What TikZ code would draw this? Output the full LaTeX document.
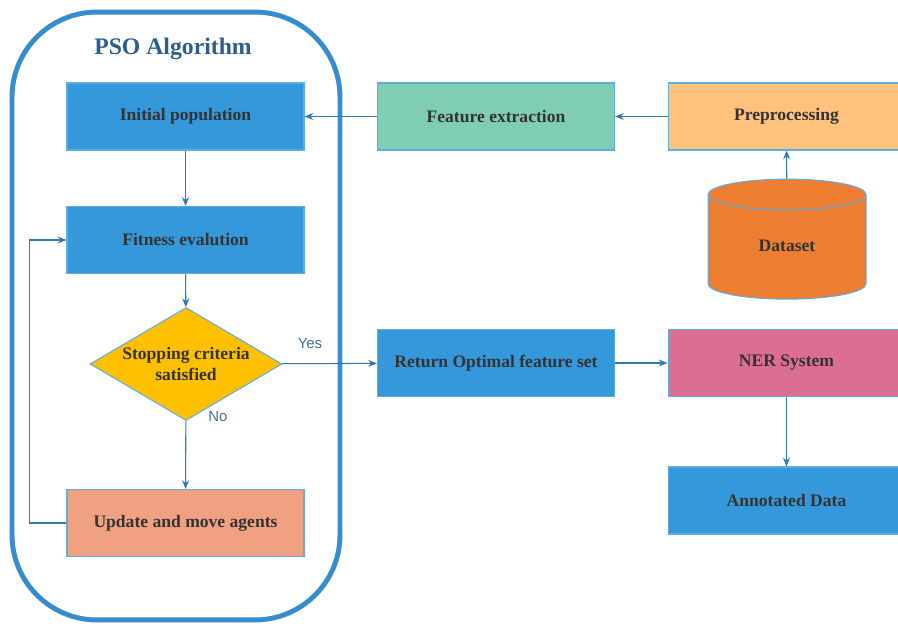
\documentclass[tikz,border=0pt]{standalone}
\usepackage{fontspec}
\setmainfont{Liberation Serif}
\newfontfamily\labelfont{Liberation Sans}
\usetikzlibrary{arrows.meta, positioning, shapes.geometric, calc}
\definecolor{boxblue}{RGB}{52,152,219}
\definecolor{featgreen}{RGB}{127,205,181}
\definecolor{prepeach}{RGB}{255,195,125}
\definecolor{dataorange}{RGB}{237,125,49}
\definecolor{decyellow}{RGB}{255,192,0}
\definecolor{updsalmon}{RGB}{240,161,130}
\definecolor{nerpink}{RGB}{220,111,145}
\definecolor{edgeblue}{RGB}{93,173,226}
\definecolor{linkblue}{RGB}{52,120,176}
\definecolor{framecol}{RGB}{54,141,206}
\definecolor{titlecol}{RGB}{44,94,140}
\definecolor{textgray}{RGB}{51,51,51}
\definecolor{labelblue}{RGB}{70,110,160}
\tikzset{
    block/.style={rectangle, draw=edgeblue, line width=0.6pt, minimum width=4.74cm,
        minimum height=1.34cm, font=\fontsize{10}{12}\selectfont\bfseries,
        text=textgray, align=center},
    decision/.style={diamond, draw=edgeblue, line width=0.6pt, fill=decyellow,
        aspect=1.7, inner sep=0pt, minimum width=3.84cm, minimum height=2.26cm,
        font=\fontsize{10}{12}\selectfont\bfseries, text=textgray, align=center},
    store/.style={cylinder, shape border rotate=90, aspect=0.45, draw=edgeblue,
        line width=0.6pt, fill=dataorange, minimum width=3.16cm, minimum height=2.4cm,
        font=\fontsize{10}{12}\selectfont\bfseries, text=textgray},
    frame/.style={rectangle, rounded corners=1.7cm, draw=framecol, line width=2.8pt},
    link/.style={-{Stealth[length=5pt, width=4pt]}, draw=linkblue, line width=0.6pt},
    branch/.style={font=\labelfont\fontsize{8.5}{10}\selectfont, text=labelblue},
}
\begin{document}
\begin{tikzpicture}[x=0.02cm, y=-0.02cm]
    \useasboundingbox (0,0) rectangle (898,625);

    % PSO loop
    \node[frame, minimum width=6.56cm, minimum height=12.16cm] (pso) at (176,316) {};
    \node[font=\fontsize{13.5}{16}\selectfont\bfseries, text=titlecol] (title) at (173,49) {PSO Algorithm};

    \node[block, fill=boxblue] (init) at (185.5,116.5) {Initial population};
    \node[block, fill=boxblue] (fit) at (185.5,240) {Fitness evalution};
    \node[decision] (stop) at (186,364) {Stopping criteria\\satisfied};
    \node[block, fill=updsalmon] (upd) at (185.5,523) {Update and move agents};

    \draw (init) edge[link] (fit);
    \draw (fit) edge[link] (stop);
    \draw (stop) edge[link] (upd);
    \draw[link] (upd.west) -- ++(-37,0) |- (fit.west);

    \node[branch] (yes) at (310,343) {Yes};
    \node[branch] (no) at (218,416) {No};

    % data side
    \node[block, fill=featgreen] (feat) at (496,116.5) {Feature extraction};
    \node[block, fill=prepeach] (prep) at (786.5,116.5) {Preprocessing};
    \node[store] (data) at (787,250) {\raisebox{0.18cm}{Dataset}};

    \draw (data) edge[link] (prep);
    \draw (prep) edge[link] (feat);
    \draw (feat) edge[link] (init);

    % output side
    \node[block, fill=boxblue] (ret) at (496,363) {Return Optimal feature set};
    \node[block, fill=nerpink] (ner) at (786.5,363) {NER System};
    \node[block, fill=boxblue] (ann) at (786.5,500.5) {Annotated Data};

    \draw (stop) edge[link] (ret);
    \draw (ret) edge[link] (ner);
    \draw (ner) edge[link] (ann);
\end{tikzpicture}
\end{document}
